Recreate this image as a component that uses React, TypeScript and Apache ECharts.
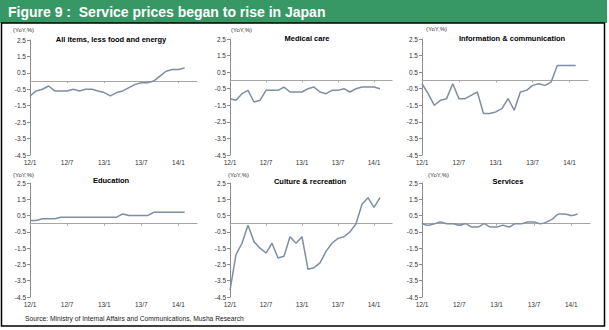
import React, { useEffect, useRef } from "react";
import * as echarts from "echarts";

const months = [
  "12/1", "12/2", "12/3", "12/4", "12/5", "12/6", "12/7", "12/8", "12/9", "12/10", "12/11", "12/12",
  "13/1", "13/2", "13/3", "13/4", "13/5", "13/6", "13/7", "13/8", "13/9", "13/10", "13/11", "13/12",
  "14/1", "14/2", "14/3", "14/4",
];

const allItemsLessFoodEnergy = [-0.9, -0.6, -0.5, -0.3, -0.6, -0.6, -0.6, -0.5, -0.6, -0.5, -0.5, -0.6, -0.7, -0.9, -0.7, -0.6, -0.4, -0.2, -0.1, -0.1, 0.0, 0.3, 0.6, 0.7, 0.7, 0.8];
const medicalCare = [-1.1, -1.2, -0.8, -0.6, -1.3, -1.2, -0.6, -0.6, -0.6, -0.4, -0.7, -0.7, -0.7, -0.5, -0.4, -0.7, -0.8, -0.6, -0.6, -0.5, -0.7, -0.5, -0.4, -0.4, -0.4, -0.5];
const infoComm = [-0.2, -0.8, -1.5, -1.2, -1.1, -0.2, -1.1, -1.1, -0.9, -0.7, -2.0, -2.0, -1.9, -1.7, -1.1, -1.8, -0.7, -0.6, -0.3, -0.2, -0.3, -0.1, 0.9, 0.9, 0.9, 0.9];
const education = [0.2, 0.2, 0.3, 0.3, 0.3, 0.4, 0.4, 0.4, 0.4, 0.4, 0.4, 0.4, 0.4, 0.4, 0.4, 0.6, 0.5, 0.5, 0.5, 0.5, 0.7, 0.7, 0.7, 0.7, 0.7, 0.7];
const cultureRecreation = [-4.1, -1.9, -1.2, -0.1, -1.1, -1.5, -1.8, -1.2, -2.1, -2.0, -0.8, -1.2, -0.8, -2.8, -2.7, -2.4, -1.7, -1.2, -0.9, -0.8, -0.5, 0.0, 1.2, 1.6, 1.0, 1.6];
const services = [0.0, -0.1, 0.0, 0.1, 0.0, 0.0, -0.1, 0.0, -0.2, -0.2, 0.0, -0.2, -0.2, -0.1, -0.2, 0.0, 0.0, 0.1, 0.1, 0.0, 0.1, 0.3, 0.6, 0.6, 0.5, 0.6];

const panelTitles = [
  "All items, less food and energy",
  "Medical care",
  "Information & communication",
  "Education",
  "Culture & recreation",
  "Services",
];
const panelSeries = [allItemsLessFoodEnergy, medicalCare, infoComm, education, cultureRecreation, services];

const Y_MIN = -4.5;
const Y_MAX = 2.5;
const Y_STEP = 1;
const unitLabel = "(YoY,%)";
const figureTitle = "Figure 9 :  Service prices began to rise in Japan";
const sourceText = "Source: Ministry of Internal Affairs and Communications, Musha Research";

const FONT = "Liberation Sans, Arial, sans-serif";
const LINE_COLOR = "#7f8ea2";

const grids = [
  { left: 30, top: 40, width: 167, height: 115 },
  { left: 230, top: 39, width: 162, height: 116 },
  { left: 422, top: 39, width: 166, height: 116 },
  { left: 30, top: 183, width: 167, height: 114 },
  { left: 230, top: 183, width: 162, height: 114 },
  { left: 422, top: 183, width: 168, height: 114 },
];
const titlePos = [
  [111, 39], [307, 38], [512, 38], [111, 180], [310, 181], [508, 181],
];
const unitPos = [
  [13, 30], [231, 30], [426, 29], [13, 175], [228, 175], [428, 175],
];

export default function App() {
  const ref = useRef<HTMLDivElement>(null);
  useEffect(() => {
    if (!ref.current) return;
    const chart = echarts.init(ref.current, undefined, { renderer: "svg" });
    const xAxis: any[] = [];
    const yAxis: any[] = [];
    const series: any[] = [];
    grids.forEach((g, i) => {
      xAxis.push({
        type: "category",
        gridIndex: i,
        data: months,
        boundaryGap: false,
        position: "bottom",
        axisLine: { show: false, onZero: false },
        axisTick: { show: false },
        axisLabel: { interval: 5, fontSize: 6.5, color: "#333", fontFamily: FONT, margin: 4 },
        splitLine: { show: false },
      });
      xAxis.push({
        type: "category",
        gridIndex: i,
        data: months,
        boundaryGap: false,
        position: "top",
        axisLine: { show: true, onZero: true, lineStyle: { color: "#a6a6a6", width: 1.2 } },
        axisTick: { show: true, inside: true, interval: 5, length: 2, lineStyle: { color: "#a6a6a6" } },
        axisLabel: { show: false },
        splitLine: { show: false },
      });
      yAxis.push({
        type: "value",
        gridIndex: i,
        min: Y_MIN,
        max: Y_MAX,
        interval: Y_STEP,
        axisLine: { show: true, onZero: false, lineStyle: { color: "#8c8c8c" } },
        axisTick: { show: true, length: 3, lineStyle: { color: "#8c8c8c" } },
        axisLabel: {
          fontSize: 6.5,
          color: "#333",
          fontFamily: FONT,
          margin: 4,
          formatter: (v: number) => v.toFixed(1),
        },
        splitLine: { show: false },
      });
      series.push({
        type: "line",
        xAxisIndex: i * 2,
        yAxisIndex: i,
        data: panelSeries[i],
        showSymbol: false,
        symbol: "none",
        smooth: i === 5 ? 0.3 : false,
        lineStyle: { color: LINE_COLOR, width: 1.5 },
      });
    });

    const graphic: any[] = [
      {
        type: "rect",
        shape: { x: 0, y: 0, width: 607, height: 23 },
        style: { fill: "#379866" },
      },
      {
        type: "text",
        x: 8,
        y: 12,
        style: {
          text: figureTitle,
          fill: "#ffffff",
          fontSize: 14,
          fontWeight: "bold",
          fontFamily: FONT,
          verticalAlign: "middle",
        },
      },
      {
        type: "rect",
        shape: { x: 1.5, y: 23, width: 603, height: 303 },
        style: { fill: "none", stroke: "#000", lineWidth: 1.5 },
      },
      {
        type: "text",
        x: 25,
        y: 318,
        style: { text: sourceText, fill: "#222", fontSize: 6.7, fontFamily: FONT, verticalAlign: "middle" },
      },
    ];
    panelTitles.forEach((t, i) => {
      graphic.push({
        type: "text",
        x: titlePos[i][0],
        y: titlePos[i][1],
        style: {
          text: t,
          fill: "#000",
          fontSize: 7.5,
          fontWeight: "bold",
          fontFamily: FONT,
          align: "center",
          verticalAlign: "middle",
        },
      });
      graphic.push({
        type: "text",
        x: unitPos[i][0],
        y: unitPos[i][1],
        style: { text: unitLabel, fill: "#333", fontSize: 6, fontFamily: FONT, verticalAlign: "middle" },
      });
    });

    chart.setOption({
      animation: false,
      backgroundColor: "#ffffff",
      grid: grids.map((g) => ({ ...g, containLabel: false })),
      xAxis,
      yAxis,
      series,
      graphic,
    });
    return () => chart.dispose();
  }, []);
  return (
    <div
      ref={ref}
      style={{ position: "absolute", left: 0, top: 0, width: 609, height: 330 }}
    />
  );
}
